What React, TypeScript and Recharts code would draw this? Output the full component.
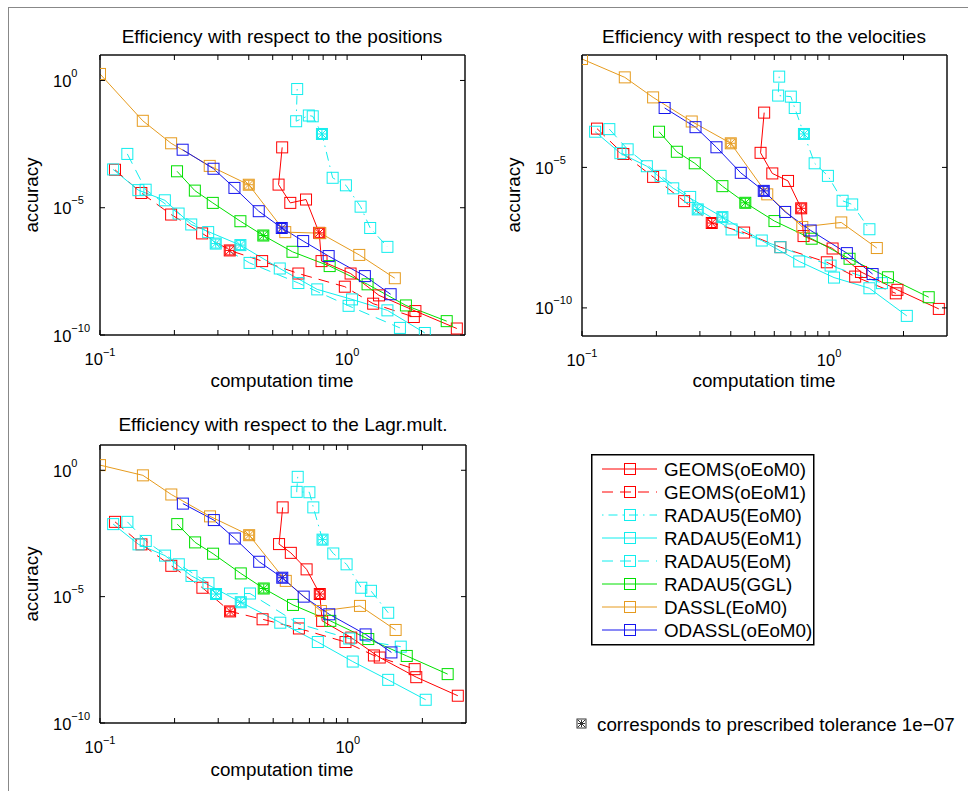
import React from 'react';
import { LineChart, Line, XAxis, YAxis, Legend } from 'recharts';

const FONT = '"Liberation Sans", Arial, Helvetica, sans-serif';

// ---- computation times (shared by the three panels) and accuracies ----
const T_GEOMS0 = [0.546, 0.528, 0.589, 0.682, 0.771, 0.788, 1.033, 1.346, 1.89, 2.78];
const POS_GEOMS0 = [2.35e-3, 8.1e-5, 1.55e-5, 2.1e-5, 1.03e-6, 8.0e-8, 2.6e-8, 3.6e-9, 8.7e-10, 1.8e-10];
const VEL_GEOMS0 = [8.9e-4, 3.3e-5, 6.1e-6, 3.3e-6, 3.5e-7, 3.6e-8, 1.3e-8, 1.9e-9, 4.4e-10, 9.2e-11];
const LAG_GEOMS0 = [3.4e-2, 1.2e-3, 5.4e-4, 1.2e-4, 1.27e-5, 1.1e-6, 2.4e-7, 3.9e-8, 6.5e-9, 1.2e-9];

const T_GEOMS1 = [0.115, 0.147, 0.194, 0.259, 0.335, 0.453, 0.635, 0.979, 1.275, 1.862];
const POS_GEOMS1 = [3.1e-4, 3.8e-5, 5.4e-6, 9.8e-7, 2.1e-7, 8.0e-8, 2.6e-8, 7.9e-9, 1.7e-9, 5.1e-10];
const VEL_GEOMS1 = [2.4e-4, 3.0e-5, 4.6e-6, 6.3e-7, 1.05e-7, 4.8e-8, 1.45e-8, 4.2e-9, 1.3e-9, 3.3e-10];
const LAG_GEOMS1 = [9.1e-3, 1.17e-3, 1.66e-4, 2.25e-5, 2.6e-6, 1.27e-6, 5.5e-7, 1.6e-7, 4.7e-8, 1.35e-8];

const T_EOM0 = [0.628, 0.622, 0.7, 0.726, 0.791, 0.874, 0.989, 1.134, 1.24, 1.456];
const POS_EOM0 = [0.46, 2.5e-2, 4.2e-2, 3.9e-2, 7.9e-3, 1.5e-4, 7.6e-5, 1.1e-5, 1.6e-6, 2.9e-7];
const VEL_EOM0 = [1.7e-2, 3.6e-3, 3.3e-3, 1.3e-3, 1.55e-4, 1.4e-5, 5.0e-6, 6.5e-7, 4.8e-7, 6.3e-8];
const LAG_EOM0 = [0.55, 0.14, 0.135, 3.4e-2, 1.8e-3, 5.1e-4, 1.9e-4, 2.25e-5, 1.7e-5, 2.3e-6];

const T_EOM1 = [0.113, 0.143, 0.183, 0.234, 0.37, 0.534, 0.757, 1.047, 1.456, 2.063];
const POS_EOM1 = [3.2e-4, 4.9e-5, 1.96e-5, 2.2e-6, 3.4e-7, 4.1e-8, 6.2e-9, 2.5e-9, 9.3e-10, 1.2e-10];
const VEL_EOM1 = [1.86e-4, 3.2e-5, 1.1e-5, 1.8e-6, 1.7e-7, 2.5e-8, 4.5e-9, 1.2e-9, 5.0e-10, 5.2e-11];
const LAG_EOM1 = [7.4e-3, 1.17e-3, 4.2e-4, 6.6e-5, 6.0e-6, 9.3e-7, 1.6e-7, 2.7e-8, 5.1e-9, 8.3e-10];

const T_EOM = [0.129, 0.153, 0.208, 0.274, 0.294, 0.403, 0.635, 1.014, 1.636];
const POS_EOM = [1.3e-3, 5.1e-5, 5.9e-6, 1.1e-6, 3.9e-7, 6.8e-8, 1.1e-8, 1.4e-9, 1.9e-10];
const VEL_EOM = [2.3e-4, 4.4e-5, 5.0e-6, 8.9e-7, 3.2e-7, 6.2e-8, 1.45e-8, 3.2e-9, 7.6e-10];
const LAG_EOM = [9.1e-3, 1.6e-3, 1.9e-4, 3.4e-5, 1.27e-5, 1.33e-5, 8.3e-7, 2.2e-7, 1.05e-7];

const T_GGL = [0.205, 0.242, 0.286, 0.37, 0.458, 0.601, 0.85, 1.21, 1.73, 2.53];
const POS_GGL = [2.7e-4, 4.7e-5, 1.55e-5, 2.95e-6, 8.1e-7, 1.86e-7, 5.1e-8, 9.8e-9, 1.45e-9, 3.5e-10];
const VEL_GGL = [1.86e-4, 3.6e-5, 1.4e-5, 2.15e-6, 5.5e-7, 1.23e-7, 2.9e-8, 5.6e-9, 1.23e-9, 2.4e-10];
const LAG_GGL = [7.4e-3, 1.4e-3, 5.0e-4, 8.3e-5, 2.1e-5, 4.7e-6, 1.1e-6, 2.1e-7, 4.5e-8, 8.6e-9];

const T_DASSL = [0.1, 0.149, 0.194, 0.278, 0.4, 0.562, 0.779, 1.12, 1.56];
const POS_DASSL = [1.8, 2.6e-2, 3.4e-3, 4.4e-4, 8.0e-5, 1.1e-6, 1.0e-6, 1.4e-7, 1.7e-8];
const VEL_DASSL = [7.2e-2, 1.6e-2, 3.1e-3, 4.3e-4, 7.2e-5, 1.1e-6, 7.6e-8, 1.1e-7, 1.35e-8];
const LAG_DASSL = [1.6, 0.63, 0.11, 1.5e-2, 2.7e-3, 4.2e-5, 2.7e-6, 4.3e-6, 4.8e-7];

const T_ODASSL = [0.216, 0.288, 0.35, 0.439, 0.544, 0.664, 0.842, 1.18, 1.5];
const POS_ODASSL = [1.9e-3, 3.4e-4, 6.0e-5, 7.3e-6, 1.6e-6, 4.9e-7, 1.26e-7, 2.06e-8, 4.0e-9];
const VEL_ODASSL = [1.3e-3, 2.7e-4, 5.2e-5, 6.4e-6, 1.46e-6, 2.6e-7, 5.7e-8, 8.9e-9, 1.6e-9];
const LAG_ODASSL = [4.8e-2, 1.07e-2, 2.0e-3, 2.4e-4, 5.6e-5, 1.0e-5, 2.0e-6, 3.2e-7, 6.2e-8];

// index of the run with prescribed tolerance 1e-07
const STAR_INDEX = 4;

const X_TICKS = [0.1, 0.2, 0.3, 0.4, 0.5, 0.6, 0.7, 0.8, 0.9, 1, 2];
const Y_TICKS_A = [1e-10, 1e-5, 1];
const Y_TICKS_B = [1e-10, 1e-5];

const TITLES = [
  'Efficiency with respect to the positions',
  'Efficiency with respect to the velocities',
  'Efficiency with respect to the Lagr.mult.',
];
const X_LABEL = 'computation time';
const Y_LABEL = 'accuracy';
const NOTE = 'corresponds to prescribed tolerance 1e\u221207';

type Series = {
  name: string;
  color: string;
  dash?: string;
  t: number[];
  pos: number[];
  vel: number[];
  lag: number[];
};

const SERIES: Series[] = [
  { name: 'GEOMS(oEoM0)', color: '#ff0000', t: T_GEOMS0, pos: POS_GEOMS0, vel: VEL_GEOMS0, lag: LAG_GEOMS0 },
  { name: 'GEOMS(oEoM1)', color: '#ff0000', dash: '11 7', t: T_GEOMS1, pos: POS_GEOMS1, vel: VEL_GEOMS1, lag: LAG_GEOMS1 },
  { name: 'RADAU5(EoM0)', color: '#11eeee', dash: '1.5 5 9 5', t: T_EOM0, pos: POS_EOM0, vel: VEL_EOM0, lag: LAG_EOM0 },
  { name: 'RADAU5(EoM1)', color: '#11eeee', t: T_EOM1, pos: POS_EOM1, vel: VEL_EOM1, lag: LAG_EOM1 },
  { name: 'RADAU5(EoM)', color: '#11eeee', dash: '11 7', t: T_EOM, pos: POS_EOM, vel: VEL_EOM, lag: LAG_EOM },
  { name: 'RADAU5(GGL)', color: '#00e000', t: T_GGL, pos: POS_GGL, vel: VEL_GGL, lag: LAG_GGL },
  { name: 'DASSL(EoM0)', color: '#e69b1e', t: T_DASSL, pos: POS_DASSL, vel: VEL_DASSL, lag: LAG_DASSL },
  { name: 'ODASSL(oEoM0)', color: '#1515ee', t: T_ODASSL, pos: POS_ODASSL, vel: VEL_ODASSL, lag: LAG_ODASSL },
];

type PanelKey = 'pos' | 'vel' | 'lag';
const PANELS: { key: PanelKey; left: number; top: number; w: number; h: number; yDomain: [number, number]; yTicks: number[] }[] = [
  { key: 'pos', left: 100, top: 55, w: 365, h: 280, yDomain: [1e-10, 10], yTicks: Y_TICKS_A },
  { key: 'vel', left: 582, top: 55, w: 365, h: 281, yDomain: [1e-11, 1e-1], yTicks: Y_TICKS_B },
  { key: 'lag', left: 100, top: 445, w: 366, h: 278, yDomain: [1e-10, 10], yTicks: Y_TICKS_A },
];

const TICK_LEN = 5;
const isMajor = (v: number) => {
  const e = Math.log10(v);
  return Math.abs(e - Math.round(e)) < 1e-6;
};
const expText = (v: number) => {
  const e = Math.round(Math.log10(v));
  return e < 0 ? '\u2212' + Math.abs(e) : String(e);
};

const BottomTick = (p: any) => {
  const { x, y, payload } = p;
  const v = payload.value;
  return (
    <g>
      <line x1={x} x2={x} y1={y} y2={y - TICK_LEN} stroke="#000" strokeWidth={1} />
      {isMajor(v) && (
        <text x={x} y={y + 29.5} textAnchor="middle" fontSize={16.5} fontFamily={FONT} fill="#000">
          10<tspan dy={-9} fontSize={11}>{expText(v)}</tspan>
        </text>
      )}
    </g>
  );
};
const TopTick = (p: any) => {
  const { x, y } = p;
  return <line x1={x} x2={x} y1={y} y2={y + TICK_LEN} stroke="#000" strokeWidth={1} />;
};
const LeftTick = (p: any) => {
  const { x, y, payload } = p;
  const v = payload.value;
  return (
    <g>
      <line x1={x} x2={x + TICK_LEN} y1={y} y2={y} stroke="#000" strokeWidth={1} />
      <text x={x - 47} y={y + 6.5} textAnchor="start" fontSize={16.5} fontFamily={FONT} fill="#000">
        10<tspan dy={-10} fontSize={11}>{expText(v)}</tspan>
      </text>
    </g>
  );
};
const RightTick = (p: any) => {
  const { x, y } = p;
  return <line x1={x} x2={x - TICK_LEN} y1={y} y2={y} stroke="#000" strokeWidth={1} />;
};

const makeDot = (color: string) => (p: any) => {
  const { cx, cy, index } = p;
  if (cx == null || cy == null || isNaN(cx) || isNaN(cy)) return <g key={`n${index}`} />;
  const r = 5.5;
  const s = 4.2;
  return (
    <g key={`d${index}`}>
      <rect x={cx - r} y={cy - r} width={2 * r} height={2 * r} fill="none" stroke={color} strokeWidth={1} />
      {index === STAR_INDEX && (
        <g stroke={color} strokeWidth={1}>
          <line x1={cx - s} x2={cx + s} y1={cy} y2={cy} />
          <line x1={cx} x2={cx} y1={cy - s} y2={cy + s} />
          <line x1={cx - s} x2={cx + s} y1={cy - s} y2={cy + s} />
          <line x1={cx - s} x2={cx + s} y1={cy + s} y2={cy - s} />
          <rect x={cx - r + 1} y={cy - r + 1} width={2 * r - 2} height={2 * r - 2} fill="none" />
        </g>
      )}
    </g>
  );
};

const LegendBox = () => (
  <svg width={224} height={192} style={{ display: 'block', overflow: 'visible' }}>
    <rect x={0.75} y={0.75} width={222} height={190} fill="#fff" stroke="#000" strokeWidth={1.5} />
    {SERIES.map((s, i) => {
      const cy = 15 + i * 23;
      return (
        <g key={s.name}>
          <line x1={11} x2={66} y1={cy} y2={cy} stroke={s.color} strokeWidth={1} strokeDasharray={s.dash} />
          <rect x={39 - 5.5} y={cy - 5.5} width={11} height={11} fill="none" stroke={s.color} strokeWidth={1} />
          <text x={73} y={cy + 7} fontSize={18.8} fontFamily={FONT} fill="#000">
            {s.name}
          </text>
        </g>
      );
    })}
  </svg>
);

const Panel = ({ idx }: { idx: number }) => {
  const P = PANELS[idx];
  const W = P.w + 80;
  const H = P.h + 60;
  const axisStyle = { stroke: '#111', strokeWidth: 1.5 };
  return (
    <div style={{ position: 'absolute', left: P.left - 60, top: P.top - 20 }}>
      <LineChart width={W} height={H} margin={{ top: 10, right: 10, bottom: 10, left: 20 }}>
        <XAxis
          xAxisId="b"
          dataKey="t"
          type="number"
          scale="log"
          domain={[0.1, 3]}
          allowDataOverflow
          ticks={X_TICKS}
          interval={0}
          orientation="bottom"
          height={30}
          tickSize={0}
          tickMargin={0}
          tickLine={false}
          axisLine={axisStyle}
          tick={BottomTick}
        />
        <XAxis
          xAxisId="t"
          dataKey="t"
          type="number"
          scale="log"
          domain={[0.1, 3]}
          allowDataOverflow
          ticks={X_TICKS}
          interval={0}
          orientation="top"
          height={10}
          tickSize={0}
          tickMargin={0}
          tickLine={false}
          axisLine={axisStyle}
          tick={TopTick}
        />
        <YAxis
          yAxisId="l"
          type="number"
          scale="log"
          domain={P.yDomain}
          allowDataOverflow
          ticks={P.yTicks}
          interval={0}
          width={40}
          tickSize={0}
          tickMargin={0}
          tickLine={false}
          axisLine={axisStyle}
          tick={LeftTick}
        />
        <YAxis
          yAxisId="r"
          orientation="right"
          type="number"
          scale="log"
          domain={P.yDomain}
          allowDataOverflow
          ticks={P.yTicks}
          interval={0}
          width={10}
          tickSize={0}
          tickMargin={0}
          tickLine={false}
          axisLine={axisStyle}
          tick={RightTick}
        />
        {SERIES.map((s) => (
          <Line
            key={s.name}
            xAxisId="b"
            yAxisId="l"
            data={s.t.map((t, i) => ({ t, a: s[P.key][i] }))}
            dataKey="a"
            type="linear"
            stroke={s.color}
            strokeWidth={1}
            strokeDasharray={s.dash}
            dot={makeDot(s.color)}
            activeDot={false}
            isAnimationActive={false}
          />
        ))}
        {idx === 2 && (
          <Legend
            layout="vertical"
            align="center"
            verticalAlign="middle"
            content={() => <LegendBox />}
            wrapperStyle={{ left: 551, top: 29, width: 224, height: 192 }}
          />
        )}
      </LineChart>
    </div>
  );
};

export default function App() {
  const textProps = { fontFamily: FONT, fill: '#000' };
  return (
    <div style={{ position: 'absolute', left: 0, top: 0, width: 968, height: 791, background: '#fff', overflow: 'hidden', fontFamily: FONT }}>
      <div style={{ position: 'absolute', left: 8, top: 7, width: 968, height: 800, borderLeft: '1.5px solid #888', borderTop: '1.5px solid #888' }} />
      <svg width={968} height={791} style={{ position: 'absolute', left: 0, top: 0 }}>
        <text x={282} y={43} textAnchor="middle" fontSize={19} {...textProps}>{TITLES[0]}</text>
        <text x={764} y={43} textAnchor="middle" fontSize={19} {...textProps}>{TITLES[1]}</text>
        <text x={283} y={431} textAnchor="middle" fontSize={19} {...textProps}>{TITLES[2]}</text>
        <text x={282} y={387} textAnchor="middle" fontSize={18.8} {...textProps}>{X_LABEL}</text>
        <text x={764} y={387} textAnchor="middle" fontSize={18.8} {...textProps}>{X_LABEL}</text>
        <text x={282} y={776} textAnchor="middle" fontSize={18.8} {...textProps}>{X_LABEL}</text>
        <text transform="translate(38,195) rotate(-90)" textAnchor="middle" fontSize={18.8} {...textProps}>{Y_LABEL}</text>
        <text transform="translate(520,195) rotate(-90)" textAnchor="middle" fontSize={18.8} {...textProps}>{Y_LABEL}</text>
        <text transform="translate(38,584) rotate(-90)" textAnchor="middle" fontSize={18.8} {...textProps}>{Y_LABEL}</text>
        <g stroke="#333" strokeWidth={1} fill="none">
          <rect x={577} y={719} width={9} height={9} />
          <line x1={578} x2={585} y1={723.5} y2={723.5} />
          <line x1={581.5} x2={581.5} y1={720} y2={727} />
          <line x1={578} x2={585} y1={720} y2={727} />
          <line x1={578} x2={585} y1={727} y2={720} />
        </g>
        <text x={597} y={730.5} fontSize={18.8} {...textProps}>{NOTE}</text>
      </svg>
      <Panel idx={0} />
      <Panel idx={1} />
      <Panel idx={2} />
    </div>
  );
}
